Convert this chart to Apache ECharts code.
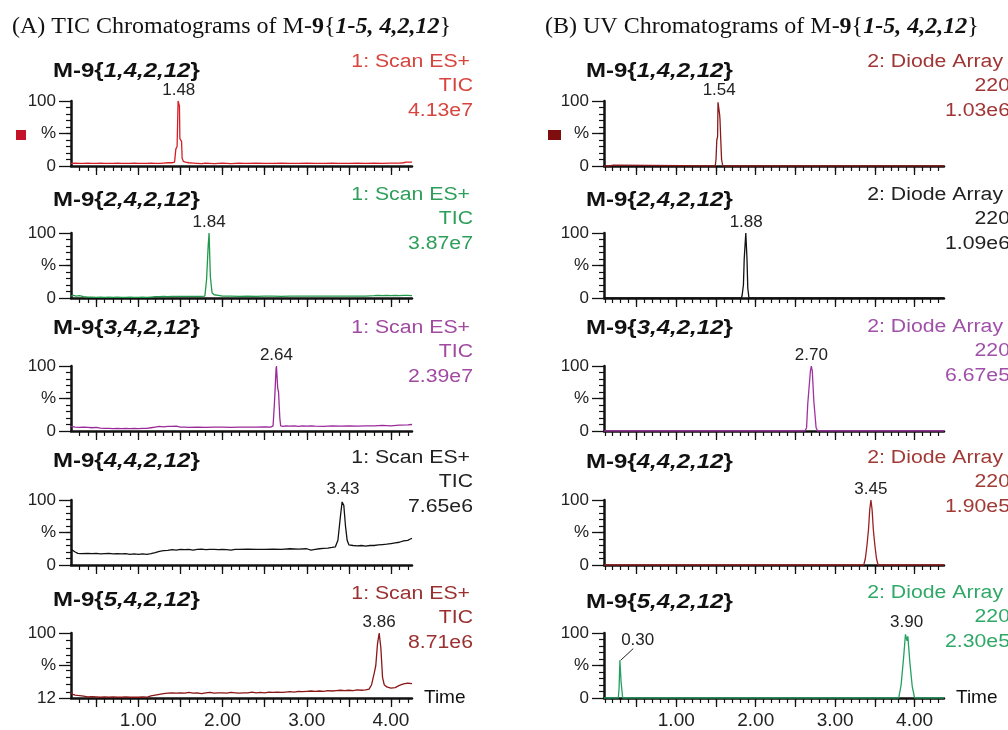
<!DOCTYPE html>
<html><head><meta charset="utf-8">
<script src="https://cdn.jsdelivr.net/npm/echarts@6/dist/echarts.min.js"></script>
<style>html,body{margin:0;padding:0;background:#fff}#c{width:1008px;height:730px}</style>
</head><body><div id="c"></div>
<script>
// ---------------- DATA ----------------
const compounds = ['1,4,2,12', '2,4,2,12', '3,4,2,12', '4,4,2,12', '5,4,2,12'];
const ticPeaks = [1.48, 1.84, 2.64, 3.43, 3.86];
const uvPeaks = [1.54, 1.88, 2.70, 3.45, 3.90];
const uvExtraPeak = [0.30, 58];
const ticIntensity = ['4.13e7', '3.87e7', '2.39e7', '7.65e6', '8.71e6'];
const uvIntensity = ['1.03e6', '1.09e6', '6.67e5', '1.90e5', '2.30e5'];
const ticFunction = '1: Scan ES+';
const ticTrace = 'TIC';
const uvFunction = '2: Diode Array';
const uvTrace = '220';
const xTickLabels = [1, 2, 3, 4];
const ticYMin = [0, 0, 0, 0, 12];
const uvYMin = [0, 0, 0, 0, 0];

const tic1 = [[0.20,4],[0.25,4.5],[0.30,4],[0.35,4],[0.40,4.5],[0.45,4],[0.50,4],[0.55,4.5],[0.60,4],[0.65,4],[0.70,4],[0.75,4.5],[0.80,4],[0.85,4],[0.90,4],[0.95,4.5],[1.00,4],[1.05,4],[1.10,4],[1.15,4.5],[1.20,4],[1.25,4],[1.30,4.5],[1.35,5],[1.40,5],[1.43,6],[1.445,26],[1.46,30],[1.468,32],[1.472,100],[1.48,100],[1.488,92],[1.493,42],[1.505,40],[1.513,38],[1.52,12],[1.535,7],[1.56,6],[1.60,5],[1.65,4.5],[1.70,4],[1.75,3.5],[1.80,4.5],[1.85,4],[1.90,3.5],[1.95,4],[2.00,4.5],[2.05,4],[2.10,3.5],[2.15,4],[2.20,4.5],[2.25,4],[2.30,4],[2.40,4.5],[2.50,4],[2.60,4],[2.70,4.5],[2.80,4],[2.90,4],[3.00,4.5],[3.10,4],[3.20,4],[3.30,4.5],[3.40,4],[3.50,4],[3.60,4.5],[3.70,4],[3.80,4.5],[3.90,4],[4.00,4.5],[4.10,4.5],[4.15,5],[4.18,6],[4.25,6]];
const tic2 = [[0.20,3],[0.23,4],[0.26,3],[0.30,3.5],[0.35,2],[0.40,1.5],[0.45,1.5],[0.50,1],[0.55,1.5],[0.60,1],[0.65,1.5],[0.70,1],[0.75,1.5],[0.80,1],[0.85,1],[0.90,1.5],[0.95,1],[1.00,1],[1.05,1.5],[1.10,1],[1.15,1.5],[1.20,2],[1.25,2],[1.30,2.5],[1.35,2],[1.40,2.5],[1.45,2.5],[1.50,2.5],[1.55,2.5],[1.60,2.5],[1.65,2.5],[1.70,2.5],[1.75,2.5],[1.79,3],[1.80,5],[1.81,28],[1.825,31],[1.83,82],[1.835,80],[1.84,100],[1.85,98],[1.855,33],[1.865,30],[1.875,8],[1.90,5],[1.95,4],[2.00,3],[2.10,3],[2.20,2.5],[2.30,3],[2.40,2.5],[2.50,3],[2.60,3],[2.70,2.5],[2.80,3],[2.90,3],[3.00,3],[3.10,3],[3.20,3],[3.30,3],[3.40,3],[3.50,3],[3.60,3],[3.70,3],[3.80,3.5],[3.85,4],[3.90,3.5],[3.95,4],[4.00,3.5],[4.05,4],[4.10,3.5],[4.15,4],[4.20,4],[4.25,3.5]];
const tic3 = [[0.20,7],[0.25,6],[0.30,5.5],[0.35,6],[0.40,5.5],[0.45,5],[0.50,5.5],[0.55,4.5],[0.60,4],[0.65,4],[0.70,3.5],[0.75,4],[0.80,3.5],[0.85,4],[0.90,3.5],[0.95,4],[1.00,3.5],[1.05,4],[1.10,4],[1.15,5],[1.20,6],[1.25,7],[1.30,6.5],[1.35,7],[1.40,7],[1.45,7.5],[1.50,6],[1.55,6],[1.60,5.5],[1.70,6],[1.80,5.5],[1.90,6],[2.00,6],[2.10,5.5],[2.20,6],[2.30,6],[2.40,6],[2.50,6.5],[2.57,6],[2.60,8],[2.615,40],[2.625,66],[2.635,95],[2.64,100],[2.65,100],[2.655,66],[2.665,60],[2.68,20],[2.69,8],[2.72,7],[2.75,8],[2.80,7.5],[2.85,8],[2.90,7],[2.95,8],[3.00,7.5],[3.05,8],[3.10,7.5],[3.20,7],[3.30,8],[3.40,7.5],[3.50,8],[3.60,7.5],[3.70,8],[3.80,8],[3.90,8.5],[4.00,8],[4.10,9],[4.20,9.5],[4.25,10]];
const tic4 = [[0.20,24],[0.22,22],[0.25,20],[0.28,18],[0.32,17.5],[0.40,18],[0.45,17.5],[0.50,18],[0.55,17],[0.60,17.5],[0.65,18],[0.70,17],[0.75,17.5],[0.80,17],[0.85,17.5],[0.90,16.5],[0.95,17],[1.00,16.5],[1.05,17],[1.10,16.5],[1.15,17.5],[1.20,19],[1.25,21],[1.30,22],[1.35,22.5],[1.40,23.5],[1.45,23],[1.50,24],[1.55,23.5],[1.60,24],[1.65,23],[1.70,24],[1.75,24.5],[1.80,23.5],[1.85,24],[1.90,24],[1.95,23.5],[2.00,24],[2.05,23.5],[2.10,23],[2.15,24],[2.20,24],[2.30,24.5],[2.40,24],[2.50,24],[2.60,24.5],[2.70,24],[2.80,25],[2.90,24.5],[3.00,25],[3.05,23],[3.10,24],[3.15,25],[3.20,25.5],[3.25,26],[3.30,27],[3.34,28],[3.37,38],[3.40,75],[3.42,97],[3.43,100],[3.44,92],[3.46,60],[3.48,38],[3.50,31],[3.55,30],[3.60,29.5],[3.65,30],[3.70,29],[3.75,30],[3.80,30],[3.85,31],[3.90,31.5],[3.95,32],[4.00,33],[4.05,34],[4.10,35],[4.15,37],[4.20,38],[4.23,40],[4.25,41]];
const tic5 = [[0.20,20],[0.22,17],[0.25,16],[0.28,15.5],[0.30,14],[0.35,14.5],[0.40,13.5],[0.45,14],[0.50,13.5],[0.55,13],[0.60,13.5],[0.65,13],[0.70,13.5],[0.75,13],[0.80,13],[0.85,13.5],[0.90,13],[0.95,13],[1.00,13],[1.05,13.5],[1.10,13],[1.15,15],[1.20,16],[1.25,17],[1.30,18],[1.35,18.5],[1.40,19],[1.45,18.5],[1.50,19],[1.55,18.5],[1.60,19.5],[1.65,18.5],[1.70,19],[1.75,18],[1.80,19],[1.85,19.5],[1.90,18.5],[1.95,19],[2.00,19],[2.05,18.5],[2.10,19.5],[2.15,19],[2.20,18.5],[2.25,19],[2.30,19],[2.35,20],[2.40,19],[2.45,19.5],[2.50,19],[2.55,20],[2.60,19.5],[2.65,20],[2.70,19.5],[2.75,20],[2.80,20.5],[2.85,20],[2.90,21],[2.95,20.5],[3.00,21],[3.05,21.5],[3.10,21],[3.15,21.5],[3.20,21],[3.25,22],[3.30,21.5],[3.35,22],[3.40,22.5],[3.45,22],[3.50,22.5],[3.55,22],[3.60,23],[3.65,22.5],[3.70,23],[3.74,24],[3.77,30],[3.80,45],[3.82,56],[3.84,85],[3.86,100],[3.87,98],[3.88,80],[3.90,40],[3.92,30],[3.95,27],[4.00,25.5],[4.05,26],[4.10,29],[4.15,31],[4.20,32],[4.25,31.5]];

const uv1 = [[0.09,0],[0.15,0],[0.17,1.5],[0.21,1.5],[0.23,0],[1.49,0],[1.50,10],[1.51,40],[1.52,45],[1.525,98],[1.54,100],[1.545,80],[1.55,72],[1.56,40],[1.57,10],[1.585,0],[4.37,0]];
const uv2 = [[0.09,0],[1.82,0],[1.83,5],[1.845,20],[1.855,60],[1.862,62],[1.875,100],[1.882,100],[1.89,60],[1.90,15],[1.915,0],[4.37,0]];
const uv3 = [[0.09,0],[2.62,0],[2.64,5],[2.655,42],[2.668,45],[2.688,92],[2.70,100],[2.712,92],[2.732,45],[2.745,42],[2.76,5],[2.78,0],[4.37,0]];
const uv4 = [[0.09,0],[3.36,0],[3.38,10],[3.40,30],[3.42,55],[3.435,85],[3.45,100],[3.465,85],[3.48,55],[3.50,30],[3.52,10],[3.54,0],[4.37,0]];
const uv5 = [[0.09,0],[0.27,0],[0.28,15],[0.29,58],[0.30,58],[0.305,25],[0.32,22],[0.325,0],[3.80,0],[3.83,20],[3.86,60],[3.885,98],[3.90,100],[3.905,88],[3.915,95],[3.94,55],[3.97,18],[4.00,0],[4.37,0]];

// ---------------- LAYOUT / STYLE ----------------
const SANS = '"Liberation Sans", Arial, Helvetica, sans-serif';
const SERIF = '"Liberation Serif", "Times New Roman", serif';
const panelTops = [101, 233, 366, 500, 633];
const panelH = 65;
const sides = [
  { left: 71, width: 341, min: 0.2, max: 4.25, data: [tic1, tic2, tic3, tic4, tic5], peaks: ticPeaks,
    yMin: ticYMin, ints: ticIntensity, fn: ticFunction, tr: ticTrace,
    lineColors: ['#d41f25', '#1f9a4a', '#9a2a9a', '#111111', '#8a1616'],
    textColors: ['#d8443e', '#2e9e5a', '#a04aa0', '#222222', '#9a3030'],
    subX: 53, subY: [71, 200, 328, 461, 600], annY: [62, 195, 328, 458, 594],
    annX1: 470, annX2: 473 },
  { left: 604, width: 340, min: 0.09, max: 4.37, data: [uv1, uv2, uv3, uv4, uv5], peaks: uvPeaks,
    yMin: uvYMin, ints: uvIntensity, fn: uvFunction, tr: uvTrace,
    lineColors: ['#8a1a1a', '#111111', '#a030a0', '#9a2020', '#22a060'],
    textColors: ['#a03535', '#222222', '#a050a8', '#a03a35', '#30a868'],
    subX: 586, subY: [71, 200, 328, 462, 602], annY: [62, 195, 327, 458, 593],
    annX1: 1003, annX2: 1010 }
];

const grids = [], xAxes = [], yAxes = [], series = [], graphics = [];
sides.forEach((s, si) => {
  const majors = [], minors = [];
  for (let k = 1; k <= 44; k++) { const v = k / 10; if (v > s.min + 1e-6 && v < s.max - 1e-6) { minors.push(v); if (k % 5 === 0) majors.push(v); } }
  for (let i = 0; i < 5; i++) {
    const g = grids.length;
    const last = i === 4;
    grids.push({ left: s.left, top: panelTops[i], width: s.width, height: panelH, containLabel: false, outerBoundsMode: 'none' });
    xAxes.push({ gridIndex: g, type: 'value', min: s.min, max: s.max, position: 'bottom',
      axisLine: { show: true, onZero: false, lineStyle: { color: '#111', width: 2.5 } },
      axisTick: { show: true, inside: false, length: 9, customValues: majors, lineStyle: { color: '#111', width: 1.3 } },
      axisLabel: { show: last, customValues: xTickLabels, formatter: v => Number(v).toFixed(2), margin: 13, fontSize: 19, color: '#222', fontFamily: SANS },
      splitLine: { show: false },
      name: last ? 'Time' : '', nameLocation: 'end', nameGap: 12,
      nameTextStyle: { fontSize: 19, color: '#111', fontFamily: SANS } });
    xAxes.push({ gridIndex: g, type: 'value', min: s.min, max: s.max, position: 'bottom',
      axisLine: { show: false, onZero: false },
      axisTick: { show: true, inside: false, length: 5, customValues: minors, lineStyle: { color: '#111', width: 1.2 } },
      axisLabel: { show: false }, splitLine: { show: false } });
    const ymin = s.yMin[i], ymid = (ymin + 100) / 2;
    const yMinor = [];
    for (let k = 1; k < 10; k++) { if (k * 10 > ymin + 2) yMinor.push(k * 10); }
    yAxes.push({ gridIndex: g, type: 'value', min: ymin, max: 100, position: 'left',
      axisLine: { show: true, onZero: false, lineStyle: { color: '#111', width: 2.5 } },
      axisTick: { show: true, inside: false, length: 12, customValues: [ymin, ymid, 100], lineStyle: { color: '#111', width: 1.3 } },
      axisLabel: { show: true, customValues: [ymin, ymid, 100], formatter: v => (Math.abs(v - ymid) < 1e-6 ? '%' : String(v)), margin: 15, fontSize: 17, color: '#222', fontFamily: SANS },
      splitLine: { show: false } });
    yAxes.push({ gridIndex: g, type: 'value', min: ymin, max: 100, position: 'left',
      axisLine: { show: false, onZero: false },
      axisTick: { show: true, inside: false, length: 5, customValues: yMinor, lineStyle: { color: '#111', width: 1.2 } },
      axisLabel: { show: false }, splitLine: { show: false } });

    const mpData = [{ coord: [s.peaks[i], 100], value: s.peaks[i] }];
    const ser = { type: 'line', xAxisIndex: 2 * g, yAxisIndex: 2 * g, data: s.data[i], showSymbol: false, symbol: 'none',
      lineStyle: { color: s.lineColors[i], width: 1.3 }, itemStyle: { color: s.lineColors[i] }, animation: false, silent: true, z: 3,
      markPoint: { symbol: 'rect', symbolSize: 0, silent: true, animation: false, data: mpData,
        label: { show: true, position: 'top', distance: 2, formatter: p => Number(p.value).toFixed(2), fontSize: 17, color: '#222', fontFamily: SANS } } };
    if (si === 1 && i === 4) {
      mpData.push({ coord: uvExtraPeak, value: uvExtraPeak[0], label: { offset: [17, -9] } });
      ser.markLine = { silent: true, animation: false, symbol: ['none', 'none'], label: { show: false },
        lineStyle: { color: '#222', width: 1, type: 'solid' },
        data: [[{ coord: uvExtraPeak }, { coord: [0.458, 76] }]] };
    }
    series.push(ser);

    // panel label
    graphics.push({ type: 'text', x: s.subX, y: s.subY[i], scaleX: 1.2,
      style: { text: '{n|M-9{}{i|' + compounds[i] + '}}', align: 'left', verticalAlign: 'middle',
        fontSize: 20, fontWeight: 'bold', fontFamily: SANS, fill: '#111',
        rich: { n: { fontSize: 20, fontWeight: 'bold', fontFamily: SANS, fill: '#111' },
                i: { fontSize: 20, fontWeight: 'bold', fontStyle: 'italic', fontFamily: SANS, fill: '#111' } } } });
    // annotations
    const lines = [s.fn, s.tr, s.ints[i]];
    lines.forEach((t, li) => {
      graphics.push({ type: 'text', x: li === 0 ? s.annX1 : s.annX2, y: s.annY[i] + li * 24.5, scaleX: 1.18,
        style: { text: t, align: 'right', verticalAlign: 'middle', fontSize: 18, fontFamily: SANS, fill: s.textColors[i] } });
    });
  }
});

// titles
graphics.push({ type: 'text', x: 12, y: 27,
  style: { text: '{r|(A) TIC Chromatograms of M-}{b|9}{r|{}{bi|1-5, 4,2,12}}', align: 'left', verticalAlign: 'middle',
    fontSize: 24, fontFamily: SERIF, fill: '#111',
    rich: { r: { fontSize: 24, fontFamily: SERIF, fill: '#111' }, b: { fontSize: 24, fontFamily: SERIF, fontWeight: 'bold', fill: '#111' },
            bi: { fontSize: 24, fontFamily: SERIF, fontWeight: 'bold', fontStyle: 'italic', fill: '#111' } } } });
graphics.push({ type: 'text', x: 545, y: 27,
  style: { text: '{r|(B) UV Chromatograms of M-}{b|9}{r|{}{bi|1-5, 4,2,12}}', align: 'left', verticalAlign: 'middle',
    fontSize: 24, fontFamily: SERIF, fill: '#111',
    rich: { r: { fontSize: 24, fontFamily: SERIF, fill: '#111' }, b: { fontSize: 24, fontFamily: SERIF, fontWeight: 'bold', fill: '#111' },
            bi: { fontSize: 24, fontFamily: SERIF, fontWeight: 'bold', fontStyle: 'italic', fill: '#111' } } } });
// legend squares
graphics.push({ type: 'rect', shape: { x: 16, y: 130, width: 10, height: 10 }, style: { fill: '#c4122a' } });
graphics.push({ type: 'rect', shape: { x: 548, y: 130, width: 13, height: 10 }, style: { fill: '#7f0d0d' } });

const chart = echarts.init(document.getElementById('c'), null, { renderer: 'canvas' });
chart.setOption({
  backgroundColor: '#ffffff',
  animation: false,
  grid: grids, xAxis: xAxes, yAxis: yAxes, series: series, graphic: graphics
});
</script></body></html>
